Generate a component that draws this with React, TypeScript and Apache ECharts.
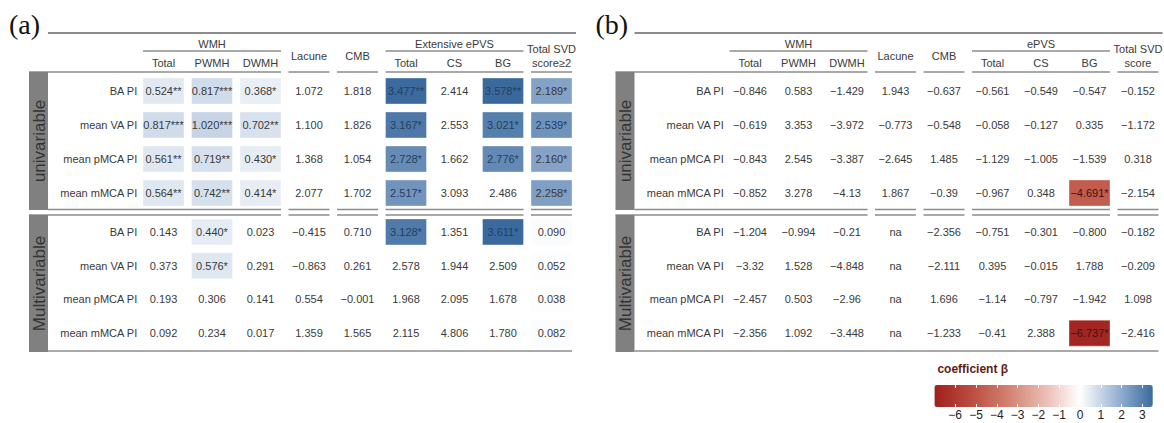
import React, { useEffect, useRef } from "react";
import * as echarts from "echarts";

const rowNames = ["BA PI", "mean VA PI", "mean pMCA PI", "mean mMCA PI"];
const colKeys = ["WMH Total", "PWMH", "DWMH", "Lacune", "CMB", "ePVS Total", "CS", "BG", "Total SVD"];

const aColLabels = ["Total", "PWMH", "DWMH", "Lacune", "CMB", "Total", "CS", "BG", "Total SVD\nscore≥2"];
const bColLabels = ["Total", "PWMH", "DWMH", "Lacune", "CMB", "Total", "CS", "BG", "Total SVD\nscore"];
const aGroupTitles = ["WMH", "Extensive ePVS"];
const bGroupTitles = ["WMH", "ePVS"];
const sectionNames = ["univariable", "Multivariable"];

// panel (a)
const aUni = [
  ["0.524**", "0.817***", "0.368*", "1.072", "1.818", "3.477**", "2.414", "3.578**", "2.189*"],
  ["0.817***", "1.020***", "0.702**", "1.100", "1.826", "3.167*", "2.553", "3.021*", "2.539*"],
  ["0.561**", "0.719**", "0.430*", "1.368", "1.054", "2.728*", "1.662", "2.776*", "2.160*"],
  ["0.564**", "0.742**", "0.414*", "2.077", "1.702", "2.517*", "3.093", "2.486", "2.258*"],
];
const aMulti = [
  ["0.143", "0.440*", "0.023", "-0.415", "0.710", "3.128*", "1.351", "3.611*", "0.090"],
  ["0.373", "0.576*", "0.291", "-0.863", "0.261", "2.578", "1.944", "2.509", "0.052"],
  ["0.193", "0.306", "0.141", "0.554", "-0.001", "1.968", "2.095", "1.678", "0.038"],
  ["0.092", "0.234", "0.017", "1.359", "1.565", "2.115", "4.806", "1.780", "0.082"],
];
// panel (b)
const bUni = [
  ["-0.846", "0.583", "-1.429", "1.943", "-0.637", "-0.561", "-0.549", "-0.547", "-0.152"],
  ["-0.619", "3.353", "-3.972", "-0.773", "-0.548", "-0.058", "-0.127", "0.335", "-1.172"],
  ["-0.843", "2.545", "-3.387", "-2.645", "1.485", "-1.129", "-1.005", "-1.539", "0.318"],
  ["-0.852", "3.278", "-4.13", "1.867", "-0.39", "-0.967", "0.348", "-4.691*", "-2.154"],
];
const bMulti = [
  ["-1.204", "-0.994", "-0.21", "na", "-2.356", "-0.751", "-0.301", "-0.800", "-0.182"],
  ["-3.32", "1.528", "-4.848", "na", "-2.111", "0.395", "-0.015", "1.788", "-0.209"],
  ["-2.457", "0.503", "-2.96", "na", "1.696", "-1.14", "-0.797", "-1.942", "1.098"],
  ["-2.356", "1.092", "-3.448", "na", "-1.233", "-0.41", "2.388", "-6.737*", "-2.416"],
];
// columns shaded even without stars (panel a, multivariable, Total SVD)
const aMultiShadedCols = [8];

const legendTitle = "coefficient β";
const legendTicks = [-6, -5, -4, -3, -2, -1, 0, 1, 2, 3];
const scaleMin = -7;
const scaleMax = 3.5;
const scaleColors = ["#a01f1d", "#bb4b3f", "#d1806f", "#eab9b1", "#ffffff", "#9db5d4", "#3a6a9d"];

const FONT = '"Liberation Sans", Arial, Helvetica, sans-serif';
const TXT = "#3a3a3a";
const LINE = "#8c8c8c";

const PITCH = 48.5;
const CELL_W = 41;
const CELL_H = 26;
const GRID_W = PITCH * 9;
const groups = [[0, 2], [3, 3], [4, 4], [5, 7], [8, 8]];
const sections = [
  { top: 74, h: 136, bandTop: 72, bandBottom: 210 },
  { top: 215, h: 135, bandTop: 215, bandBottom: 352 },
];
const UNIT = 20.8;

const minus = (s: string) => s.replace(/-/g, "\u2212");

function buildCells(table: string[][], shadedCols: number[]) {
  const out: any[] = [];
  table.forEach((row, r) => {
    row.forEach((s, c) => {
      const m = s.match(/\*+$/);
      const stars = m ? m[0] : "";
      const num = s === "na" ? 0 : parseFloat(s);
      const filled = stars !== "" || shadedCols.includes(c);
      let tc = TXT;
      if (filled && num > 2.4) tc = "#22405f";
      if (filled && num < -3) tc = "#3d120d";
      out.push({ c, r, v: num, text: minus(s), filled, tc });
    });
  });
  return out;
}

export default function App() {
  const ref = useRef<HTMLDivElement>(null);
  useEffect(() => {
    document.body.style.margin = "0";
    const chart = echarts.init(ref.current!, null, { renderer: "svg" });
    const panels = [
      { dx: 0, tag: "(a)", tables: [aUni, aMulti], shaded: [[], aMultiShadedCols], labels: aColLabels, titles: aGroupTitles },
      { dx: 586.5, tag: "(b)", tables: [bUni, bMulti], shaded: [[], []], labels: bColLabels, titles: bGroupTitles },
    ];
    const grid: any[] = [];
    const xAxis: any[] = [];
    const yAxis: any[] = [];
    const series: any[] = [];
    const graphic: any[] = [];
    const line = (x1: number, y1: number, x2: number, y2: number, w = 1.5) =>
      graphic.push({ type: "line", silent: true, shape: { x1, y1, x2, y2 }, style: { stroke: LINE, lineWidth: w } });
    const text = (t: string, x: number, y: number, extra: any = {}) =>
      graphic.push({
        type: "text", silent: true, x, y, rotation: extra.rotation || 0,
        style: {
          text: t, fill: extra.fill || TXT, fontSize: extra.fontSize || 11, fontFamily: extra.fontFamily || FONT,
          fontWeight: extra.fontWeight || "normal",
          align: extra.align || "center", textAlign: extra.align || "center",
          verticalAlign: "middle", textVerticalAlign: "middle", lineHeight: extra.lineHeight || 14,
        },
      });

    panels.forEach((p) => {
      const gl = 139.25 + p.dx;
      const cc = (c: number) => gl + PITCH * (c + 0.5);
      const cl = (c: number) => cc(c) - CELL_W / 2;
      const cr = (c: number) => cc(c) + CELL_W / 2;
      const bandL = 29 + p.dx;
      const bandR = 48 + p.dx;
      text(p.tag, 9 + p.dx, 24, { fontSize: 28, fontFamily: '"Liberation Serif", "Times New Roman", serif', align: "left", fill: "#111" });
      line(bandR, 33, cr(8) + 4, 33, 2);
      let gi = 0;
      groups.forEach(([c0, c1], k) => {
        if (c1 > c0) {
          text(p.titles[gi++], (cl(c0) + cr(c1)) / 2, 44);
          line(cl(c0), 51, cr(c1), 51);
          for (let c = c0; c <= c1; c++) text(p.labels[c], cc(c), 63);
        } else {
          text(p.labels[c0], cc(c0), 56);
        }
        line(k === 0 ? bandL : cl(c0), 72, cr(c1), 72);
        line(k === 0 ? bandR : cl(c0), 209.5, cr(c1), 209.5);
        line(k === 0 ? bandL : cl(c0), 215, cr(c1), 215);
      });
      line(bandR, 351, cr(8), 351);
      sections.forEach((s, si) => {
        graphic.push({ type: "rect", silent: true, shape: { x: bandL, y: s.bandTop, width: 19, height: s.bandBottom - s.bandTop }, style: { fill: "#808080" } });
        text(sectionNames[si], bandL + 10, (s.bandTop + s.bandBottom) / 2, { rotation: Math.PI / 2, fontSize: 17, fill: "#333" });
      });
      sections.forEach((s, si) => {
        const idx = grid.length;
        grid.push({ left: gl, top: s.top, width: GRID_W, height: s.h, outerBoundsMode: "none" });
        xAxis.push({ type: "category", gridIndex: idx, data: colKeys, show: false });
        yAxis.push({
          type: "category", gridIndex: idx, data: rowNames, inverse: true,
          axisLine: { show: false }, axisTick: { show: false }, splitLine: { show: false },
          axisLabel: { color: TXT, fontSize: 11, fontFamily: FONT, margin: 2 },
        });
        const cells = buildCells(p.tables[si], p.shaded[si]);
        series.push({
          type: "custom", xAxisIndex: idx, yAxisIndex: idx, coordinateSystem: "cartesian2d",
          dimensions: ["x", "y", "v"], encode: { x: 0, y: 1 },
          data: cells.map((d) => [d.c, d.r, d.v]),
          silent: true,
          renderItem: (params: any, api: any) => {
            const d = cells[params.dataIndex];
            const pt = api.coord([api.value(0), api.value(1)]);
            const children: any[] = [];
            if (d.filled) {
              children.push({
                type: "rect",
                shape: { x: pt[0] - CELL_W / 2, y: pt[1] - CELL_H / 2, width: CELL_W, height: CELL_H },
                style: { fill: api.visual("color"), stroke: "rgba(255,255,255,0.35)", lineWidth: 1 },
              });
            }
            children.push({
              type: "text", x: pt[0], y: pt[1],
              style: { text: d.text, fill: d.tc, fontSize: 11, fontFamily: FONT, align: "center", verticalAlign: "middle" },
            });
            return { type: "group", children };
          },
        });
      });
    });

    // legend
    const barLeft = 1080 + scaleMin * UNIT;
    const barTop = 385;
    const barH = 22;
    text(legendTitle, barLeft + 3, 369, { align: "left", fontSize: 12, fontWeight: "bold", fill: "#5e1c14" });
    const lg = grid.length;
    grid.push({ left: barLeft, top: barTop, width: (scaleMax - scaleMin) * UNIT, height: barH, outerBoundsMode: "none" });
    const tickCommon = {
      type: "value", gridIndex: lg, min: scaleMin, max: scaleMax,
      axisLine: { show: false }, splitLine: { show: false },
      axisTick: { show: true, inside: true, length: 3, customValues: legendTicks, lineStyle: { color: "#ffffff", width: 1 } },
      z: 10,
    };
    xAxis.push({
      ...tickCommon, position: "bottom",
      axisLabel: { customValues: legendTicks, color: "#222", fontSize: 12, fontFamily: FONT, margin: 2, formatter: (v: number) => minus(String(v)) },
    });
    xAxis.push({ ...tickCommon, position: "top", axisLabel: { show: false } });
    yAxis.push({ type: "value", gridIndex: lg, show: false });

    chart.setOption({
      animation: false,
      grid, xAxis, yAxis, series, graphic,
      visualMap: {
        type: "continuous", min: scaleMin, max: scaleMax, dimension: 2,
        seriesIndex: [0, 1, 2, 3], orient: "horizontal",
        left: barLeft, top: barTop, itemWidth: barH, itemHeight: (scaleMax - scaleMin) * UNIT,
        padding: 0, calculable: false, hoverLink: false, realtime: false,
        text: ["", ""], showLabel: false,
        inRange: { color: scaleColors },
      },
    });
    return () => chart.dispose();
  }, []);
  return <div ref={ref} style={{ position: "absolute", left: 0, top: 0, width: 1164, height: 423 }} />;
}
